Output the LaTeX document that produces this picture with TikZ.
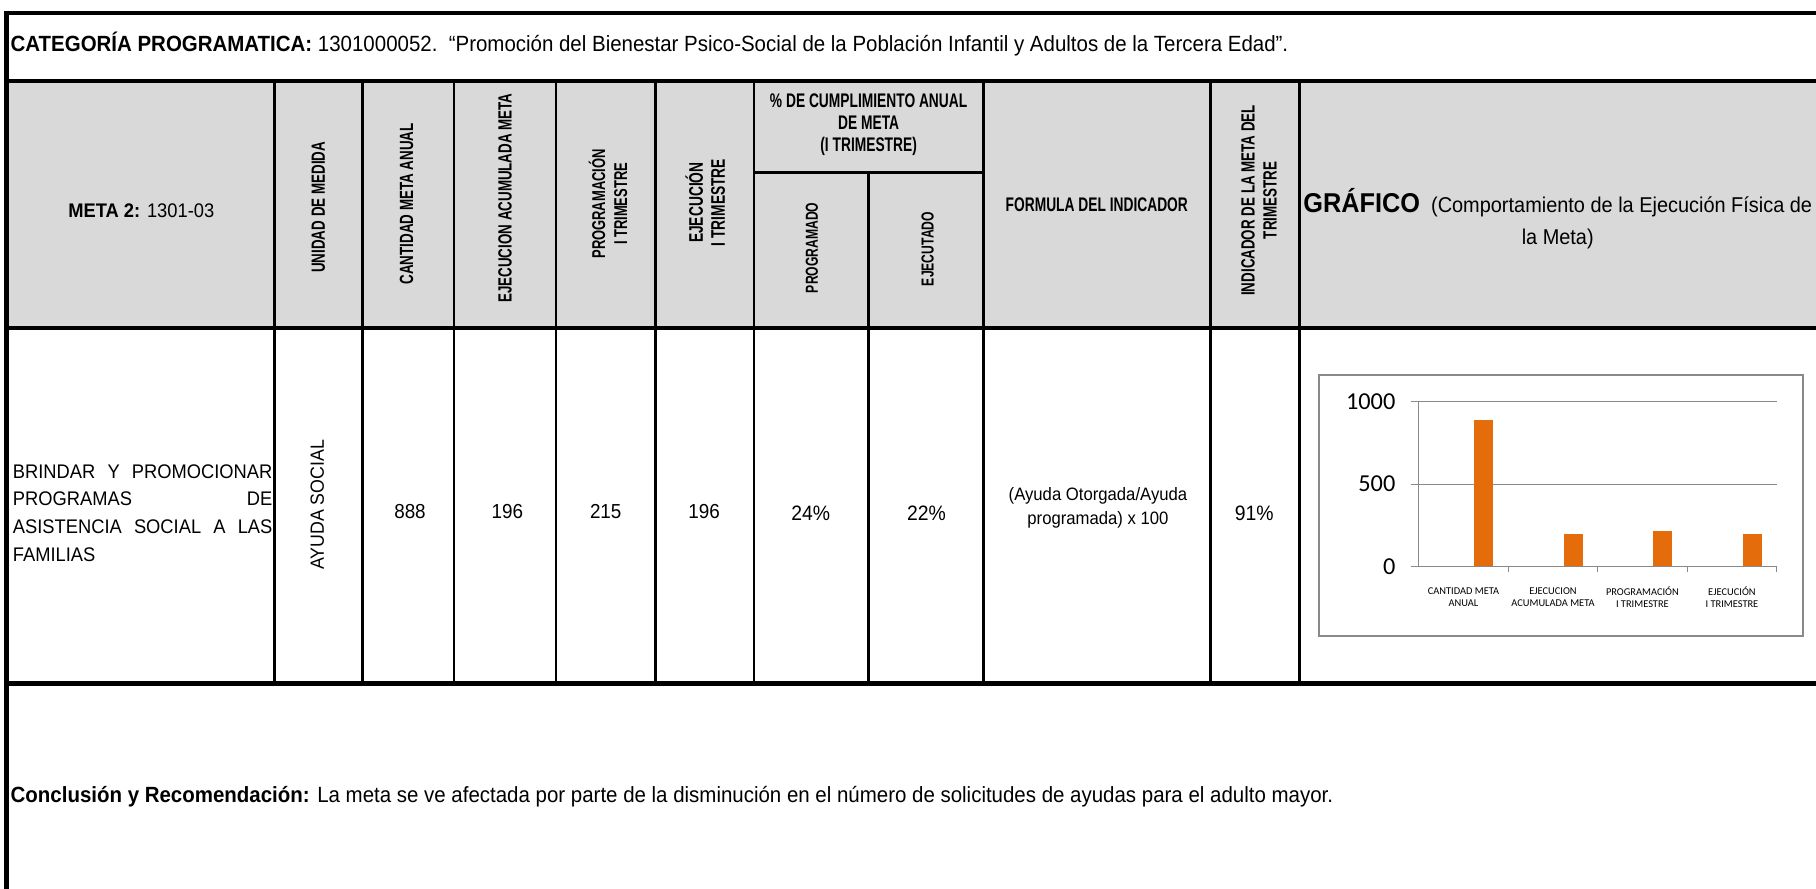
\documentclass[tikz,border=0pt]{standalone}
\usepackage{fontspec}
\setmainfont{Liberation Sans}[FakeStretch=0.93]
\newfontfamily\headfont{Liberation Sans}[FakeStretch=0.7]
\newfontfamily\chartfont{Carlito}
\usetikzlibrary{positioning}

\definecolor{headgray}{HTML}{D9D9D9}
\definecolor{gridgray}{HTML}{898989}
\definecolor{barorange}{HTML}{E46C0A}

\tikzset{
  rule/.style={line width=3.8pt},
  sep/.style={line width=2.2pt},
  headtext/.style={font=\headfont\bfseries\fontsize{#1}{19}\selectfont, align=center, inner sep=0pt},
  headtext/.default=16.5,
  uptext/.style={headtext=#1, rotate=90},
  uptext/.default=16.5,
  celltext/.style={font=\fontsize{#1}{21}\selectfont, align=center, inner sep=0pt},
  celltext/.default=17.5,
  axistext/.style={font=\chartfont\fontsize{21}{24}\selectfont, anchor=east, inner sep=0pt},
  cattext/.style={font=\chartfont\fontsize{9}{10}\selectfont, align=center, inner sep=0pt},
  bar/.style={fill=barorange, draw=none}
}

\begin{document}
\begin{tikzpicture}[x=1pt,y=-1pt]
	\useasboundingbox (0,0) rectangle (1568,767);
	\fill[headgray] (5,70) rectangle (1570,283);
	% frame of the table
	\draw[rule] (3.6,11) -- (1570,11);
	\draw[rule] (5,70) -- (1570,70);
	\draw[rule] (5,283) -- (1570,283);
	\draw[rule] (5,590) -- (1570,590);
	\draw[rule] (5.5,9.1) -- (5.5,770);
	\foreach \x in {237,313,392,480,566,651,849,1045,1122}
		\draw[sep] (\x,70) -- (\x,590);
	\draw[sep] (651,149) -- (849,149);
	\draw[sep] (750,149) -- (750,590);

	\node[anchor=west, inner sep=0pt, font=\fontsize{19}{22}\selectfont] (categoria) at (9,38)
		{\textbf{CATEGORÍA PROGRAMATICA:} 1301000052.\ \ “Promoción del Bienestar Psico-Social de la Población Infantil y Adultos de la Tercera Edad”.};

	% header row
	\node[celltext=17] (meta) at (122,182) {\textbf{META 2:} 1301-03};
	\node[uptext] (unidad) at (275,179) {UNIDAD DE MEDIDA};
	\node[uptext] (cantidad) at (351,176) {CANTIDAD META ANUAL};
	\node[uptext] (acumulada) at (436,171) {EJECUCION ACUMULADA META};
	\node[uptext=16] (programacion) at (525,176) {PROGRAMACIÓN\\ I TRIMESTRE};
	\node[uptext=17] (ejecucion) at (609,175) {EJECUCIÓN\\ I TRIMESTRE};
	\node[headtext=17] (cumplimiento) at (750,108)
		{\% DE CUMPLIMIENTO ANUAL\\ DE META\\ (I TRIMESTRE)};
	\node[uptext=15] (programado) at (701,214) {PROGRAMADO};
	\node[uptext=15] (ejecutado) at (801,215) {EJECUTADO};
	\node[headtext=17] (formula) at (947,177) {FORMULA DEL INDICADOR};
	\node[uptext] (indicador) at (1087,173) {INDICADOR DE LA META DEL\\ TRIMESTRE};
	\node[align=center, inner sep=0pt, font=\fontsize{18.5}{28}\selectfont] (grafico) at (1345,189)
		{{\fontsize{23.5}{28}\selectfont\textbf{GRÁFICO}}\ \ (Comportamiento de la Ejecución Física de\\ la Meta)};

	% data row
	\node[anchor=west, inner sep=0pt, text width=224pt, align=justify, font=\fontsize{17}{24}\selectfont] (objetivo) at (11,443)
		{BRINDAR Y PROMOCIONAR\linebreak PROGRAMAS DE\linebreak ASISTENCIA SOCIAL A LAS\linebreak FAMILIAS};
	\node[celltext=16.5, rotate=90] (ayuda) at (274,436) {AYUDA SOCIAL};
	\node[celltext] (anual) at (354,442) {888};
	\node[celltext] (acumulado) at (438,442) {196};
	\node[celltext] (programa) at (523,442) {215};
	\node[celltext] (ejecuta) at (608,442) {196};
	\node[celltext=18] (pprog) at (700,443) {24\%};
	\node[celltext=18] (pejec) at (800,443) {22\%};
	\node[celltext=15.5] (calculo) at (948,438.5)
		{(Ayuda Otorgada/Ayuda\\ programada) x 100};
	\node[celltext=18] (resultado) at (1083,443.5) {91\%};

	% chart
	\draw[gridgray, line width=2pt] (1139,324) rectangle (1557,549);
	\draw[gridgray, line width=1pt] (1218.5,347) -- (1534,347);
	\draw[gridgray, line width=1pt] (1218.5,418) -- (1534,418);
	\draw[gridgray, line width=1pt] (1218.5,489) -- (1534,489);
	\draw[gridgray, line width=1pt] (1225,347) -- (1225,489);
	\foreach \x in {1302.25,1379.5,1456.75,1534}
		\draw[gridgray, line width=1pt] (\x,489) -- (\x,494);
	\node[axistext] (mil) at (1205,347) {1000};
	\node[axistext] (quinientos) at (1205,418) {500};
	\node[axistext] (cero) at (1205,489) {0};
	\foreach \v [count=\i] in {888,196,215,196}
		\fill[bar] ({1225+77.25*(\i-0.5)+9.25},489) rectangle ++(16.5,{-0.142*\v});
	\node[cattext] (c1) at (1263.6,515.5) {CANTIDAD META\\ ANUAL};
	\node[cattext] (c2) at (1340.9,515.5) {EJECUCION\\ ACUMULADA META};
	\node[cattext] (c3) at (1418.1,515.5) {PROGRAMACIÓN\\ I TRIMESTRE};
	\node[cattext] (c4) at (1495.4,515.5) {EJECUCIÓN\\ I TRIMESTRE};

	\node[anchor=west, inner sep=0pt, font=\fontsize{19}{22}\selectfont] (conclusion) at (9,688)
		{\textbf{Conclusión y Recomendación:} La meta se ve afectada por parte de la disminución en el número de solicitudes de ayudas para el adulto mayor.};
\end{tikzpicture}
\end{document}
